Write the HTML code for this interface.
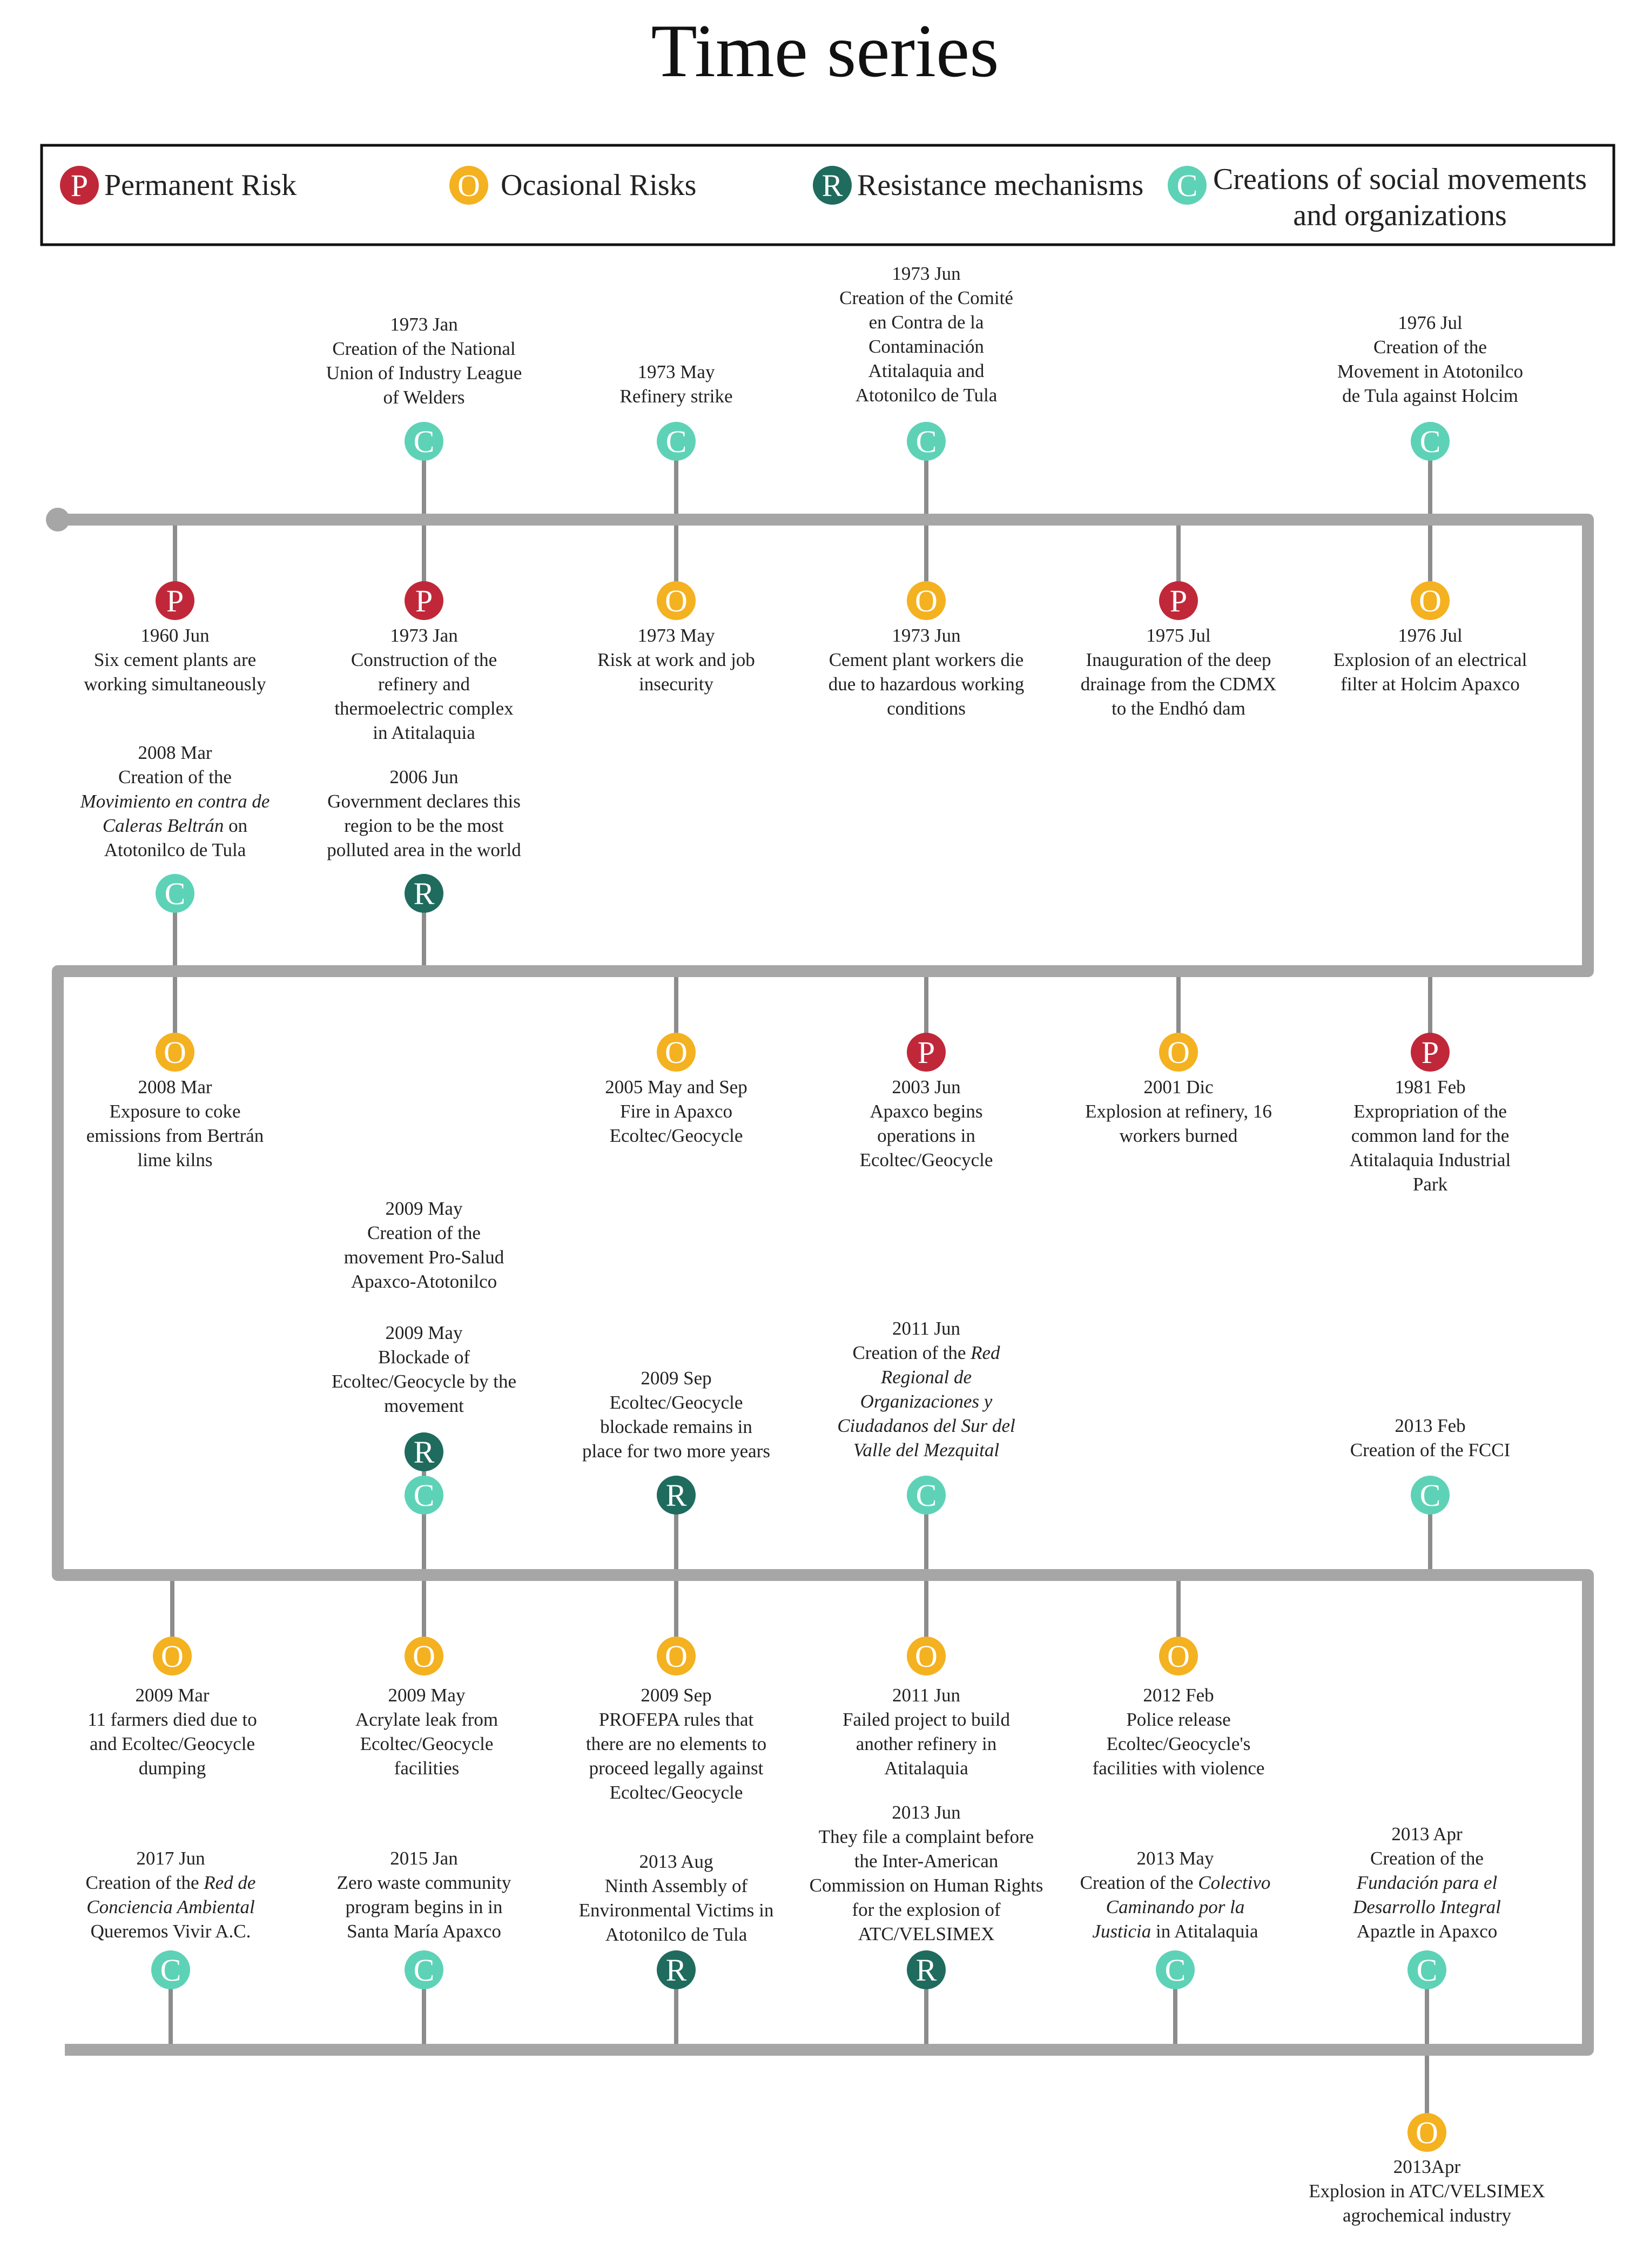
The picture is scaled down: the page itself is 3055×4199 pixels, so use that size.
<!DOCTYPE html>
<html><head><meta charset="utf-8"><style>
html,body{margin:0;padding:0;background:#fff;}
body{width:3055px;height:4199px;position:relative;overflow:hidden;font-family:"Liberation Serif",serif;color:#222;}
.t{position:absolute;width:800px;text-align:center;font-size:35px;line-height:45px;white-space:nowrap;}
.lg{position:absolute;font-size:56px;line-height:64px;color:#222;white-space:nowrap;}
svg{position:absolute;left:0;top:0;}
</style></head><body>
<svg width="3055" height="4199" xmlns="http://www.w3.org/2000/svg">
<defs>
<style>.c text{font-family:"Liberation Serif",serif;font-size:58px;fill:#fff;text-anchor:middle;}</style>
</defs>
<rect x="77" y="269" width="2911" height="184" fill="none" stroke="#111" stroke-width="5"/>
<g stroke="#8c8c8c" stroke-width="8">
<line x1="785" y1="817" x2="785" y2="962"/><line x1="1252" y1="817" x2="1252" y2="962"/><line x1="1715" y1="817" x2="1715" y2="962"/><line x1="2648" y1="817" x2="2648" y2="962"/>
<line x1="324" y1="962" x2="324" y2="1112"/><line x1="785" y1="962" x2="785" y2="1112"/><line x1="1252" y1="962" x2="1252" y2="1112"/><line x1="1715" y1="962" x2="1715" y2="1112"/><line x1="2182" y1="962" x2="2182" y2="1112"/><line x1="2648" y1="962" x2="2648" y2="1112"/>
<line x1="324" y1="1654" x2="324" y2="1798"/><line x1="785" y1="1654" x2="785" y2="1798"/>
<line x1="324" y1="1798" x2="324" y2="1948"/><line x1="1252" y1="1798" x2="1252" y2="1948"/><line x1="1715" y1="1798" x2="1715" y2="1948"/><line x1="2182" y1="1798" x2="2182" y2="1948"/><line x1="2648" y1="1798" x2="2648" y2="1948"/>
<line x1="785" y1="2688" x2="785" y2="2916"/><line x1="1252" y1="2768" x2="1252" y2="2916"/><line x1="1715" y1="2768" x2="1715" y2="2916"/><line x1="2648" y1="2768" x2="2648" y2="2916"/>
<line x1="319" y1="2916" x2="319" y2="3066"/><line x1="785" y1="2916" x2="785" y2="3066"/><line x1="1252" y1="2916" x2="1252" y2="3066"/><line x1="1715" y1="2916" x2="1715" y2="3066"/><line x1="2182" y1="2916" x2="2182" y2="3066"/>
<line x1="316" y1="3647" x2="316" y2="3795"/><line x1="785" y1="3647" x2="785" y2="3795"/><line x1="1252" y1="3647" x2="1252" y2="3795"/><line x1="1715" y1="3647" x2="1715" y2="3795"/><line x1="2176" y1="3647" x2="2176" y2="3795"/><line x1="2642" y1="3647" x2="2642" y2="3948"/>
</g>
<g stroke="#a6a6a6" stroke-width="22" fill="none" stroke-linejoin="round">
<polyline points="107,962 2940,962 2940,1798 107,1798 107,2916 2940,2916 2940,3795 120,3795"/>
</g>
<circle cx="107" cy="962" r="22" fill="#a6a6a6"/>
<g class="c">
<!-- legend -->
<circle cx="147" cy="343" r="36" fill="#c0283a"/><text x="147" y="363">P</text>
<circle cx="868" cy="343" r="36" fill="#f4b120"/><text x="868" y="363">O</text>
<circle cx="1541" cy="343" r="36" fill="#1f6b5e"/><text x="1541" y="363">R</text>
<circle cx="2198" cy="343" r="36" fill="#5ed2b6"/><text x="2198" y="363">C</text>
<!-- row1 top -->
<circle cx="785" cy="817" r="36" fill="#5ed2b6"/><text x="785" y="837">C</text>
<circle cx="1252" cy="817" r="36" fill="#5ed2b6"/><text x="1252" y="837">C</text>
<circle cx="1715" cy="817" r="36" fill="#5ed2b6"/><text x="1715" y="837">C</text>
<circle cx="2648" cy="817" r="36" fill="#5ed2b6"/><text x="2648" y="837">C</text>
<!-- row1 bottom -->
<circle cx="324" cy="1112" r="36" fill="#c0283a"/><text x="324" y="1132">P</text>
<circle cx="785" cy="1112" r="36" fill="#c0283a"/><text x="785" y="1132">P</text>
<circle cx="1252" cy="1112" r="36" fill="#f4b120"/><text x="1252" y="1132">O</text>
<circle cx="1715" cy="1112" r="36" fill="#f4b120"/><text x="1715" y="1132">O</text>
<circle cx="2182" cy="1112" r="36" fill="#c0283a"/><text x="2182" y="1132">P</text>
<circle cx="2648" cy="1112" r="36" fill="#f4b120"/><text x="2648" y="1132">O</text>
<!-- row2 upper -->
<circle cx="324" cy="1654" r="36" fill="#5ed2b6"/><text x="324" y="1674">C</text>
<circle cx="785" cy="1654" r="36" fill="#1f6b5e"/><text x="785" y="1674">R</text>
<!-- row2 below -->
<circle cx="324" cy="1948" r="36" fill="#f4b120"/><text x="324" y="1968">O</text>
<circle cx="1252" cy="1948" r="36" fill="#f4b120"/><text x="1252" y="1968">O</text>
<circle cx="1715" cy="1948" r="36" fill="#c0283a"/><text x="1715" y="1968">P</text>
<circle cx="2182" cy="1948" r="36" fill="#f4b120"/><text x="2182" y="1968">O</text>
<circle cx="2648" cy="1948" r="36" fill="#c0283a"/><text x="2648" y="1968">P</text>
<!-- row3 upper -->
<circle cx="785" cy="2768" r="36" fill="#5ed2b6"/><text x="785" y="2788">C</text>
<circle cx="785" cy="2688" r="36" fill="#1f6b5e"/><text x="785" y="2708">R</text>
<circle cx="1252" cy="2768" r="36" fill="#1f6b5e"/><text x="1252" y="2788">R</text>
<circle cx="1715" cy="2768" r="36" fill="#5ed2b6"/><text x="1715" y="2788">C</text>
<circle cx="2648" cy="2768" r="36" fill="#5ed2b6"/><text x="2648" y="2788">C</text>
<!-- row3 below -->
<circle cx="319" cy="3066" r="36" fill="#f4b120"/><text x="319" y="3086">O</text>
<circle cx="785" cy="3066" r="36" fill="#f4b120"/><text x="785" y="3086">O</text>
<circle cx="1252" cy="3066" r="36" fill="#f4b120"/><text x="1252" y="3086">O</text>
<circle cx="1715" cy="3066" r="36" fill="#f4b120"/><text x="1715" y="3086">O</text>
<circle cx="2182" cy="3066" r="36" fill="#f4b120"/><text x="2182" y="3086">O</text>
<!-- row4 upper -->
<circle cx="316" cy="3647" r="36" fill="#5ed2b6"/><text x="316" y="3667">C</text>
<circle cx="785" cy="3647" r="36" fill="#5ed2b6"/><text x="785" y="3667">C</text>
<circle cx="1252" cy="3647" r="36" fill="#1f6b5e"/><text x="1252" y="3667">R</text>
<circle cx="1715" cy="3647" r="36" fill="#1f6b5e"/><text x="1715" y="3667">R</text>
<circle cx="2176" cy="3647" r="36" fill="#5ed2b6"/><text x="2176" y="3667">C</text>
<circle cx="2642" cy="3647" r="36" fill="#5ed2b6"/><text x="2642" y="3667">C</text>
<circle cx="2642" cy="3948" r="36" fill="#f4b120"/><text x="2642" y="3968">O</text>
</g>
</svg>

<div style="position:absolute;left:0;width:3055px;top:10px;text-align:center;font-size:140px;line-height:170px;color:#111;">Time series</div>

<div class="lg" style="left:193px;top:311px;">Permanent Risk</div>
<div class="lg" style="left:927px;top:311px;">Ocasional Risks</div>
<div class="lg" style="left:1587px;top:311px;">Resistance mechanisms</div>
<div class="lg" style="left:2246px;top:300px;">Creations of social movements</div>
<div class="lg" style="left:2292px;top:367px;width:600px;text-align:center;">and organizations</div>

<!-- row1 top -->
<div class="t" style="left:385px;top:578px;">1973 Jan<br>Creation of the National<br>Union of Industry League<br>of Welders</div>
<div class="t" style="left:852px;top:666px;">1973 May<br>Refinery strike</div>
<div class="t" style="left:1315px;top:484px;">1973 Jun<br>Creation of the Comité<br>en Contra de la<br>Contaminación<br>Atitalaquia and<br>Atotonilco de Tula</div>
<div class="t" style="left:2248px;top:575px;">1976 Jul<br>Creation of the<br>Movement in Atotonilco<br>de Tula against Holcim</div>
<!-- row1 bottom -->
<div class="t" style="left:-76px;top:1154px;">1960 Jun<br>Six cement plants are<br>working simultaneously</div>
<div class="t" style="left:385px;top:1154px;">1973 Jan<br>Construction of the<br>refinery and<br>thermoelectric complex<br>in Atitalaquia</div>
<div class="t" style="left:852px;top:1154px;">1973 May<br>Risk at work and job<br>insecurity</div>
<div class="t" style="left:1315px;top:1154px;">1973 Jun<br>Cement plant workers die<br>due to hazardous working<br>conditions</div>
<div class="t" style="left:1782px;top:1154px;">1975 Jul<br>Inauguration of the deep<br>drainage from the CDMX<br>to the Endhó dam</div>
<div class="t" style="left:2248px;top:1154px;">1976 Jul<br>Explosion of an electrical<br>filter at Holcim Apaxco</div>
<!-- row2 upper -->
<div class="t" style="left:-76px;top:1371px;">2008 Mar<br>Creation of the<br><i>Movimiento en contra de</i><br><i>Caleras Beltrán</i> on<br>Atotonilco de Tula</div>
<div class="t" style="left:385px;top:1416px;">2006 Jun<br>Government declares this<br>region to be the most<br>polluted area in the world</div>
<!-- row2 below -->
<div class="t" style="left:-76px;top:1990px;">2008 Mar<br>Exposure to coke<br>emissions from Bertrán<br>lime kilns</div>
<div class="t" style="left:852px;top:1990px;">2005 May and Sep<br>Fire in Apaxco<br>Ecoltec/Geocycle</div>
<div class="t" style="left:1315px;top:1990px;">2003 Jun<br>Apaxco begins<br>operations in<br>Ecoltec/Geocycle</div>
<div class="t" style="left:1782px;top:1990px;">2001 Dic<br>Explosion at refinery, 16<br>workers burned</div>
<div class="t" style="left:2248px;top:1990px;">1981 Feb<br>Expropriation of the<br>common land for the<br>Atitalaquia Industrial<br>Park</div>
<div class="t" style="left:385px;top:2215px;">2009 May<br>Creation of the<br>movement Pro-Salud<br>Apaxco-Atotonilco</div>
<div class="t" style="left:385px;top:2445px;">2009 May<br>Blockade of<br>Ecoltec/Geocycle by the<br>movement</div>
<div class="t" style="left:852px;top:2529px;">2009 Sep<br>Ecoltec/Geocycle<br>blockade remains in<br>place for two more years</div>
<div class="t" style="left:1315px;top:2437px;">2011 Jun<br>Creation of the <i>Red</i><br><i>Regional de</i><br><i>Organizaciones y</i><br><i>Ciudadanos del Sur del</i><br><i>Valle del Mezquital</i></div>
<div class="t" style="left:2248px;top:2617px;">2013 Feb<br>Creation of the FCCI</div>
<!-- row3 below -->
<div class="t" style="left:-81px;top:3116px;">2009 Mar<br>11 farmers died due to<br>and Ecoltec/Geocycle<br>dumping</div>
<div class="t" style="left:390px;top:3116px;">2009 May<br>Acrylate leak from<br>Ecoltec/Geocycle<br>facilities</div>
<div class="t" style="left:852px;top:3116px;">2009 Sep<br>PROFEPA rules that<br>there are no elements to<br>proceed legally against<br>Ecoltec/Geocycle</div>
<div class="t" style="left:1315px;top:3116px;">2011 Jun<br>Failed project to build<br>another refinery in<br>Atitalaquia</div>
<div class="t" style="left:1782px;top:3116px;">2012 Feb<br>Police release<br>Ecoltec/Geocycle's<br>facilities with violence</div>
<!-- row4 upper -->
<div class="t" style="left:-84px;top:3418px;">2017 Jun<br>Creation of the <i>Red de</i><br><i>Conciencia Ambiental</i><br>Queremos Vivir A.C.</div>
<div class="t" style="left:385px;top:3418px;">2015 Jan<br>Zero waste community<br>program begins in in<br>Santa María Apaxco</div>
<div class="t" style="left:852px;top:3424px;">2013 Aug<br>Ninth Assembly of<br>Environmental Victims in<br>Atotonilco de Tula</div>
<div class="t" style="left:1315px;top:3333px;">2013 Jun<br>They file a complaint before<br>the Inter-American<br>Commission on Human Rights<br>for the explosion of<br>ATC/VELSIMEX</div>
<div class="t" style="left:1776px;top:3418px;">2013 May<br>Creation of the <i>Colectivo</i><br><i>Caminando por la</i><br><i>Justicia</i> in Atitalaquia</div>
<div class="t" style="left:2242px;top:3373px;">2013 Apr<br>Creation of the<br><i>Fundación para el</i><br><i>Desarrollo Integral</i><br>Apaztle in Apaxco</div>
<div class="t" style="left:2242px;top:3989px;">2013Apr<br>Explosion in ATC/VELSIMEX<br>agrochemical industry</div>
</body></html>
